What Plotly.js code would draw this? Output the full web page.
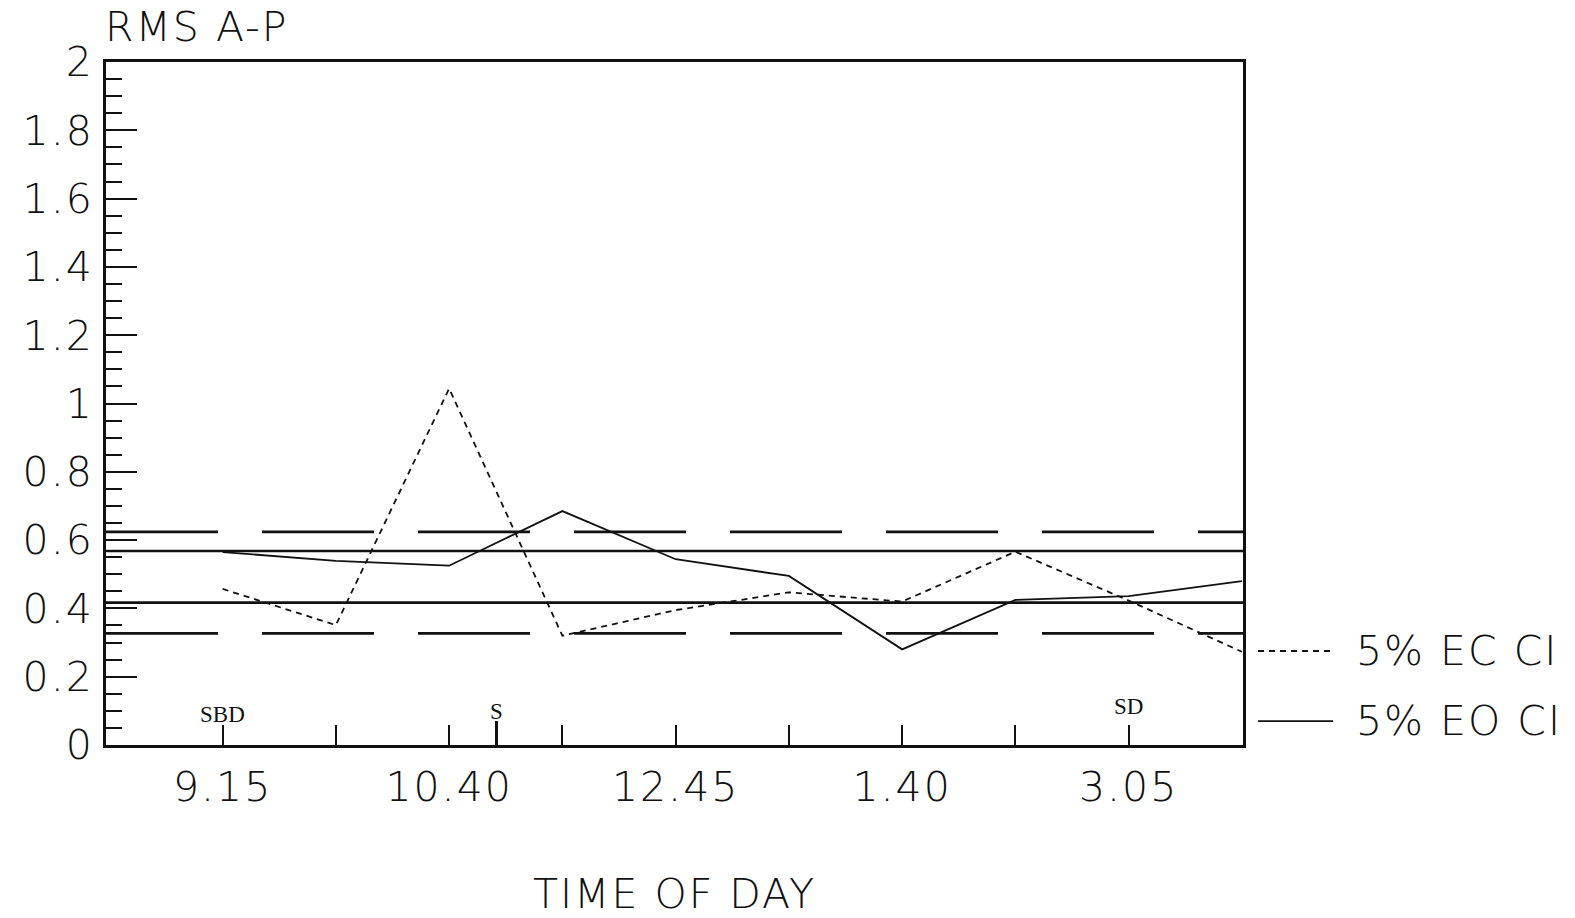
<!DOCTYPE html>
<html>
<head>
<meta charset="utf-8">
<script src="https://cdn.plot.ly/plotly-3.0.1.min.js"></script>
<style>
  html, body { margin: 0; padding: 0; background: #fff; }
  #chart { width: 1575px; height: 918px; }
</style>
</head>
<body>
<div id="chart"></div>
<script>
// ---- data ----
const positions   = [1, 2, 3, 4, 5, 6, 7, 8, 9, 10];
const ecValues    = [0.457, 0.351, 1.044, 0.320, 0.395, 0.447, 0.420, 0.566, 0.423, 0.273];
const eoValues    = [0.565, 0.539, 0.525, 0.685, 0.544, 0.495, 0.280, 0.425, 0.436, 0.480];
const ecCI        = [0.327, 0.624];
const eoCI        = [0.417, 0.568];
const xTickVals   = [1, 2, 3, 4, 5, 6, 7, 8, 9];
const xTickText   = ['9.15', '', '10.40', '', '12.45', '', '1.40', '', '3.05'];
const eventLabels = ['SBD', 'S', 'SD'];
const eventPos    = [1, 3.42, 9];
const seriesNames = ['5% EC CI', '5% EO CI'];

// ---- styling ----
const INK = '#111';
const BIG = { family: 'DejaVu Sans', weight: 200, size: 41, color: INK };
const xRange = [-0.03, 10.01];
const ciDash = '112px,44px';
const dotDash = '6px,5px';

const traces = [];
ecCI.forEach(v => traces.push({
  x: [xRange[0], xRange[1]], y: [v, v], mode: 'lines', showlegend: false, hoverinfo: 'skip',
  line: { color: INK, width: 2.6, dash: ciDash }
}));
eoCI.forEach(v => traces.push({
  x: [xRange[0], xRange[1]], y: [v, v], mode: 'lines', showlegend: false, hoverinfo: 'skip',
  line: { color: INK, width: 2.6 }
}));
traces.push({
  name: seriesNames[0], x: positions, y: ecValues, mode: 'lines', showlegend: false,
  line: { color: INK, width: 1.8, dash: dotDash }
});
traces.push({
  name: seriesNames[1], x: positions, y: eoValues, mode: 'lines', showlegend: false,
  line: { color: INK, width: 1.8 }
});
// invisible trace to carry the extra event tick axis
traces.push({ x: [eventPos[1]], y: [0], xaxis: 'x2', mode: 'markers', marker: { opacity: 0 },
  showlegend: false, hoverinfo: 'skip' });

const eventShift = [31, 34, 39];
const annotations = eventLabels.map((t, i) => ({
  text: t, x: eventPos[i], y: 0, xref: 'x', yref: 'y', showarrow: false,
  yanchor: 'middle', yshift: eventShift[i],
  font: { family: 'Liberation Serif, DejaVu Serif, serif', size: 23, color: INK }
}));
annotations.push({
  text: 'RMS A-P', xref: 'paper', yref: 'paper', x: 0, y: 1, xanchor: 'left',
  yanchor: 'middle', yshift: 35, xshift: 4, showarrow: false, font: BIG
});
// legend drawn as text + sample lines at the right of the frame
const legendY = [0.1376, 0.0351];
seriesNames.forEach((n, i) => annotations.push({
  text: n, xref: 'paper', yref: 'paper', x: 1.101, y: legendY[i], xanchor: 'left',
  yanchor: 'middle', xshift: 4, showarrow: false, font: BIG
}));
const shapes = seriesNames.map((n, i) => ({
  type: 'line', xref: 'paper', yref: 'paper', x0: 1.0132, x1: 1.0792,
  y0: legendY[i], y1: legendY[i],
  line: { color: INK, width: 1.8, dash: i === 0 ? dotDash : 'solid' }
}));

const layout = {
  width: 1575, height: 918,
  margin: { l: 106, r: 332, t: 62, b: 173, pad: 0 },
  paper_bgcolor: '#fff', plot_bgcolor: '#fff',
  font: BIG,
  showlegend: false,
  xaxis: {
    range: xRange, tickmode: 'array', tickvals: xTickVals, ticktext: xTickText,
    ticks: 'inside', ticklen: 20, tickwidth: 2, tickcolor: INK,
    showline: true, linewidth: 3, linecolor: INK, mirror: true,
    showgrid: false, zeroline: false, tickfont: BIG, ticklabelstandoff: 4,
    title: { text: 'TIME OF DAY', font: BIG, standoff: 76 }
  },
  xaxis2: {
    range: xRange, overlaying: 'x', anchor: 'y', side: 'bottom',
    tickmode: 'array', tickvals: [eventPos[1]], showticklabels: false,
    ticks: 'inside', ticklen: 24, tickwidth: 3, tickcolor: INK,
    showline: false, showgrid: false, zeroline: false
  },
  yaxis: {
    range: [0, 2], tick0: 0, dtick: 0.2,
    ticks: 'inside', ticklen: 31, tickwidth: 2, tickcolor: INK,
    minor: { ticks: 'inside', ticklen: 16, dtick: 0.05, tickwidth: 2, tickcolor: INK, showgrid: false },
    showline: true, linewidth: 3, linecolor: INK, mirror: true,
    showgrid: false, zeroline: false, tickfont: BIG, ticklabelstandoff: 1
  },
  annotations: annotations,
  shapes: shapes
};

Plotly.newPlot('chart', traces, layout, { staticPlot: true, displayModeBar: false }).then(() => {
  document.querySelectorAll('#chart text').forEach(t => {
    if (parseFloat(t.style.fontSize) >= 40) t.style.letterSpacing = '2px';
  });
});
</script>
</body>
</html>
